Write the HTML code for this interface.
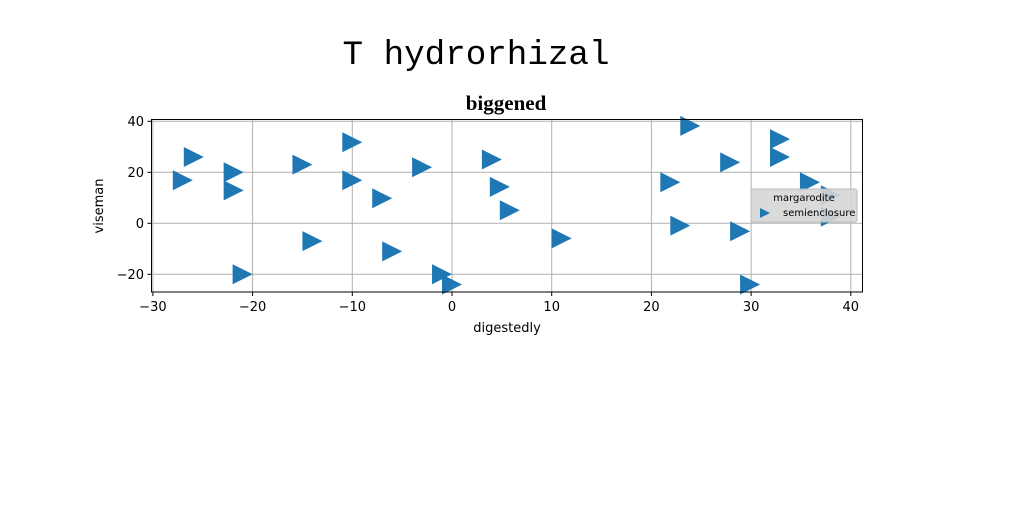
<!DOCTYPE html>
<html><head><meta charset="utf-8"><style>
body{margin:0;background:#fff;}
svg{display:block;font-family:"DejaVu Sans","Liberation Sans",sans-serif;}
</style></head><body>
<svg id="chart" width="1024" height="512">
<text x="476" y="64" font-family="Liberation Mono, DejaVu Sans Mono, monospace" font-size="34" text-anchor="middle" textLength="267" lengthAdjust="spacingAndGlyphs">T hydrorhizal</text>
<text x="506" y="110" font-family="Liberation Serif, serif" font-weight="bold" font-size="21" text-anchor="middle">biggened</text>
<g id="grid"></g>
<g id="ticks"></g>
<g id="marks"></g>
<rect x="151.5" y="119.5" width="711" height="172.5" fill="none" stroke="#000" stroke-width="1"/>
<text x="507" y="332" font-size="13" text-anchor="middle">digestedly</text>
<text transform="translate(103,206) rotate(-90)" font-size="13" text-anchor="middle">viseman</text>
<g>
<rect x="751" y="189" width="106" height="33" rx="2" fill="#d6d6d6" fill-opacity="0.9" stroke="#bbb"/>
<text x="804" y="201" font-size="10" text-anchor="middle">margarodite</text>
<polygon points="760,208 760,218 770,213" fill="#1f77b4"/>
<text x="783" y="216" font-size="10">semienclosure</text>
</g>
</svg>
<script>
const xValues=[-25.9,-27,-21.9,-21.9,-15,-10,-10,-7,-3,4,-14,-6,-21,-1,0,4.8,5.8,23.9,32.9,32.9,27.9,21.9,22.9,28.9,11,29.9,35.9,38,38];
const yValues=[26,16.9,20,12.9,23,31.8,16.9,9.8,22,25,-7,-11,-20,-20,-24,14.3,5.1,38.2,33,26,23.9,16.1,-0.9,-3.1,-5.9,-24,16.1,11,2.6];
const xTicks=[-30,-20,-10,0,10,20,30,40];
const yTicks=[-20,0,20,40];
const NS="http://www.w3.org/2000/svg";
function sx(v){return 452+v*9.97;}
function sy(v){return 223.3-v*2.55;}
const grid=document.getElementById('grid'),ticks=document.getElementById('ticks'),marks=document.getElementById('marks');
function mk(t,a,p){const e=document.createElementNS(NS,t);for(const k in a)e.setAttribute(k,a[k]);p.appendChild(e);return e;}
xTicks.forEach(v=>{const x=sx(v);
 const g=mk('line',{x1:x,x2:x,y1:119.5,y2:292,stroke:'#b0b0b0','stroke-width':1},grid);
 
 
 const t=mk('line',{x1:x,x2:x,y1:292,y2:296,stroke:'#000'},ticks);
 
 
 const l=mk('text',{x:x,y:311,'font-size':13,'text-anchor':'middle'},ticks);l.textContent=v<0?'\u2212'+(-v):v;
 
 
});
yTicks.forEach(v=>{const y=sy(v);
 const g=mk('line',{x1:151.5,x2:862.5,y1:y,y2:y,stroke:'#b0b0b0','stroke-width':1},grid);
 
 
 const t=mk('line',{x1:147.5,x2:151.5,y1:y,y2:y,stroke:'#000'},ticks);
 
 
 const l=mk('text',{x:144,y:y+4.5,'font-size':13,'text-anchor':'end'},ticks);l.textContent=v<0?'\u2212'+(-v):v;
 
 
});
xValues.forEach((v,i)=>{const cx=sx(v),cy=sy(yValues[i]);
 const p=mk('polygon',{points:`${cx-10},${cy-10} ${cx-10},${cy+10} ${cx+10},${cy}`,fill:'#1f77b4'},marks);
 
 
});
</script>
</body></html>
